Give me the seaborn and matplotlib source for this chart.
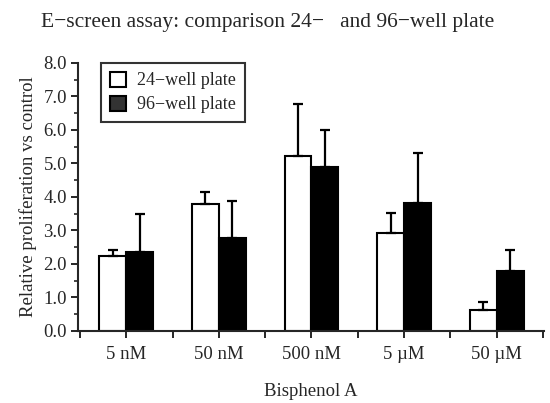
import matplotlib
matplotlib.use("Agg")
import matplotlib.pyplot as plt
import numpy as np
import pandas as pd
import seaborn as sns
from matplotlib.ticker import MultipleLocator, FixedLocator
from matplotlib.patches import Patch

# 数据
doses = ["5 nM", "50 nM", "500 nM", "5 µM", "50 µM"]
plates = ["24−well plate", "96−well plate"]
mean_24 = [2.23, 3.79, 5.22, 2.93, 0.63]
err_24 = [0.19, 0.37, 1.55, 0.58, 0.22]
mean_96 = [2.35, 2.76, 4.89, 3.81, 1.80]
err_96 = [1.14, 1.13, 1.11, 1.51, 0.62]

df = pd.DataFrame({
    "dose": doses * 2,
    "plate": [plates[0]] * len(doses) + [plates[1]] * len(doses),
    "value": mean_24 + mean_96,
    "err": err_24 + err_96,
})

sns.set_style("ticks")
plt.rcParams["font.family"] = ["Liberation Serif", "DejaVu Serif"]
plt.rcParams["axes.linewidth"] = 1.5

fig = plt.figure(figsize=(5.5, 4.03), dpi=100)
ax = fig.add_axes([0.142, 0.179, 0.847, 0.665])

sns.barplot(data=df, x="dose", y="value", hue="plate", order=doses,
            hue_order=plates, palette=["white", "black"], width=0.58,
            edgecolor="black", linewidth=1.5, errorbar=None, ax=ax,
            legend=False)

# 单侧误差线：位置取自 seaborn 画出的柱子
for patch, (_, row) in zip(ax.patches, df.iterrows()):
    cx = patch.get_x() + patch.get_width() / 2
    top = patch.get_height()
    ax.errorbar(cx, top, yerr=[[0], [row["err"]]], fmt="none",
                ecolor="black", elinewidth=1.6, capsize=3.5, capthick=1.6)

ax.set_xlim(-0.52, 4.51)
ax.set_ylim(0, 8)
ax.yaxis.set_major_locator(MultipleLocator(1))
ax.yaxis.set_minor_locator(MultipleLocator(0.5))
ax.set_yticklabels([f"{v:.1f}" for v in ax.get_yticks()])
ax.xaxis.set_minor_locator(FixedLocator(np.arange(-0.5, 5, 1)))
ax.tick_params(axis="both", which="major", direction="out", length=5,
               width=1.4, labelsize=13.5, pad=3)
ax.tick_params(axis="x", which="major", pad=6)
ax.tick_params(axis="y", which="minor", direction="out", length=3, width=1.2)
ax.tick_params(axis="x", which="minor", direction="out", length=5, width=1.4)
sns.despine(ax=ax)

ax.set_xlabel("Bisphenol A", fontsize=13.5, labelpad=14)
ax.set_ylabel("Relative proliferation vs control", fontsize=13.5, labelpad=5)
fig.text(0.487, 0.943, "E−screen assay: comparison 24−   and 96−well plate",
         ha="center", va="center", fontsize=15.5)

handles = [Patch(facecolor="white", edgecolor="black", linewidth=1.5),
           Patch(facecolor="#333333", edgecolor="black", linewidth=1.5)]
leg = ax.legend(handles, plates, loc="upper left",
                bbox_to_anchor=(0.03, 1.035), fontsize=13, frameon=True,
                fancybox=False, handlelength=0.9, handleheight=0.9,
                handletextpad=0.6, borderpad=0.5, labelspacing=0.35)
leg.get_frame().set_edgecolor("black")
leg.get_frame().set_linewidth(1.5)

fig.savefig("out.png", dpi=100)
